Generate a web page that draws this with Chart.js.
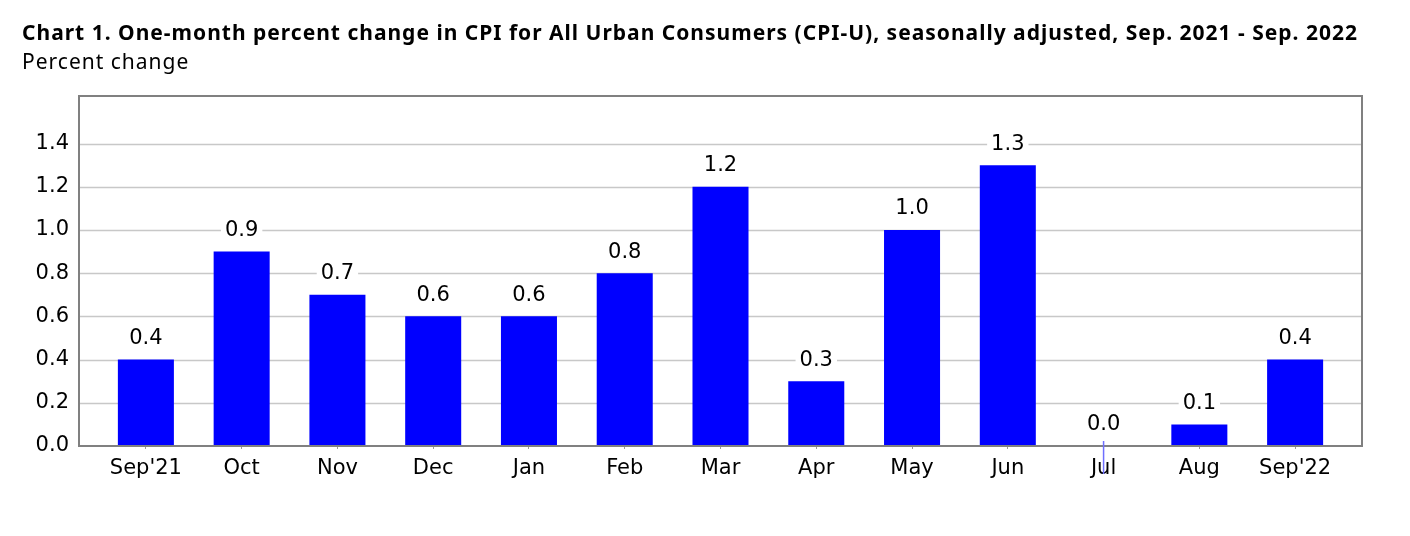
<!DOCTYPE html>
<html>
<head>
<meta charset="utf-8">
<script src="https://cdn.jsdelivr.net/npm/chart.js@4"></script>
<style>
  html, body { margin: 0; padding: 0; background: #fff; }
  #wrap { position: relative; width: 1410px; height: 536px; }
  #title { position: absolute; left: 22px; top: 18px; font: bold 21px "Noto Sans", sans-serif; letter-spacing: 1px; color: #000; white-space: nowrap; }
  #subtitle { position: absolute; left: 22px; top: 47px; font: 21px "Noto Sans", sans-serif; letter-spacing: 1px; color: #000; white-space: nowrap; }
  canvas { position: absolute; left: 0; top: 0; }
</style>
</head>
<body>
<div id="wrap">
  <canvas id="chart" width="1410" height="536"></canvas>
  <div id="title">Chart 1. One-month percent change in CPI for All Urban Consumers (CPI-U), seasonally adjusted, Sep. 2021 - Sep. 2022</div>
  <div id="subtitle">Percent change</div>
</div>
<script>
const months = ["Sep'21", "Oct", "Nov", "Dec", "Jan", "Feb", "Mar", "Apr", "May", "Jun", "Jul", "Aug", "Sep'22"]
const pctChange = [0.4, 0.9, 0.7, 0.6, 0.6, 0.8, 1.2, 0.3, 1.0, 1.3, 0.0, 0.1, 0.4]
const yTicks = [0, 0.2, 0.4, 0.6, 0.8, 1.0, 1.2, 1.4]

const FONT = "DejaVu Sans"
const FRAME_PAD = 19 // frame sits outside the category band

// frame + horizontal grid lines spanning the wider frame
const framePlugin = {
  id: "frame",
  beforeDatasetsDraw(chart) {
    const { ctx, chartArea, scales } = chart
    const left = chartArea.left - FRAME_PAD
    const right = chartArea.right + FRAME_PAD
    ctx.save()
    ctx.strokeStyle = "#c8c8c8"
    ctx.lineWidth = 1.5
    yTicks.forEach(v => {
      if (v === 0) return
      const y = Math.round(scales.y.getPixelForValue(v)) + 0.5
      ctx.beginPath()
      ctx.moveTo(left, y)
      ctx.lineTo(right, y)
      ctx.stroke()
    })
    ctx.restore()
  },
  afterDatasetsDraw(chart) {
    const { ctx, chartArea, scales } = chart
    const left = chartArea.left - FRAME_PAD
    const right = chartArea.right + FRAME_PAD
    const bottom = scales.y.getPixelForValue(0)
    ctx.save()
    ctx.strokeStyle = "#808080"
    ctx.lineWidth = 2
    ctx.strokeRect(left, chartArea.top, right - left, bottom - chartArea.top)

    // value labels above the bars
    const meta = chart.getDatasetMeta(0)
    ctx.font = "21px '" + FONT + "'"
    ctx.textAlign = "center"
    ctx.textBaseline = "middle"
    meta.data.forEach((bar, i) => {
      const text = pctChange[i].toFixed(1)
      const w = ctx.measureText(text).width
      const cy = bar.y - 21
      ctx.fillStyle = "#fff"
      ctx.fillRect(bar.x - w / 2 - 4, cy - 11, w + 8, 22)
      ctx.fillStyle = "#000"
      ctx.fillText(text, bar.x, cy)
      if (pctChange[i] === 0) {
        ctx.strokeStyle = "#6f6fff"
        ctx.lineWidth = 1.5
        ctx.beginPath()
        ctx.moveTo(bar.x, bar.y - 5)
        ctx.lineTo(bar.x, bar.y + 28)
        ctx.stroke()
      }
    })
    ctx.restore()
  }
}

new Chart(document.getElementById("chart"), {
  type: "bar",
  data: {
    labels: months,
    datasets: [{
      data: pctChange,
      backgroundColor: "#0000ff",
      borderWidth: 0,
      barPercentage: 0.585,
      categoryPercentage: 1.0
    }]
  },
  options: {
    responsive: false,
    animation: false,
    events: [],
    layout: { padding: { top: 96, right: 67, left: 0, bottom: 0 } },
    plugins: {
      legend: { display: false },
      tooltip: { enabled: false }
    },
    scales: {
      x: {
        offset: true,
        afterFit(scale) { scale.height = 90 },
        grid: { offset: false, drawOnChartArea: false, drawTicks: true, tickLength: 3, color: "#999" },
        border: { display: false },
        ticks: { color: "#000", padding: 7, font: { family: FONT, size: 21 }, maxRotation: 0 }
      },
      y: {
        min: 0,
        max: 1.62,
        afterFit(scale) { scale.width = 98 },
        afterBuildTicks(scale) {
          scale.ticks = yTicks.map(v => ({ value: v }))
        },
        grid: { display: false },
        border: { display: false },
        ticks: {
          color: "#000",
          padding: 21,
          font: { family: FONT, size: 21 },
          callback: v => v.toFixed(1)
        }
      }
    }
  },
  plugins: [framePlugin]
})
</script>
</body>
</html>
